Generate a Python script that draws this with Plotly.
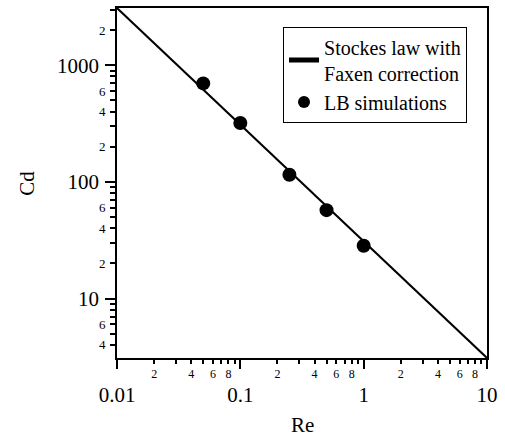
import plotly.graph_objects as go

# Data
re_sim = [0.05, 0.1, 0.25, 0.5, 1.0]
cd_sim = [698, 319, 115, 57.2, 28.3]
re_line = [0.01, 10]
cd_line = [3090, 3.09]

x_major = [0.01, 0.1, 1, 10]
x_major_text = ["0.01", "0.1", "1", "10"]
y_major = [10, 100, 1000]
y_major_text = ["10", "100", "1000"]
minor_digits = [2, 3, 4, 5, 6, 7, 8, 9]
x_minor_labels = {2: "2", 4: "4", 6: "6", 8: "8"}
y_minor_labels = {2: "2", 4: "4", 6: "6"}

FONT = "Liberation Serif"
xr = [-2, 1]
yr = [0.49, 3.49]

x_minor = [d * 10 ** e for e in (-2, -1, 0) for d in minor_digits]
x_minor_text = [x_minor_labels.get(d, "") for e in (-2, -1, 0) for d in minor_digits]
y_minor = [d * 10 ** e for e in (0, 1, 2, 3) for d in minor_digits]
y_minor_text = [y_minor_labels.get(d, "") for e in (0, 1, 2, 3) for d in minor_digits]

fig = go.Figure()
fig.add_trace(go.Scatter(x=re_line, y=cd_line, mode="lines",
                         line=dict(color="black", width=2),
                         name="Stockes law with<br>Faxen correction"))
fig.add_trace(go.Scatter(x=re_sim, y=cd_sim, mode="markers",
                         marker=dict(color="black", size=14),
                         name="LB simulations"))
# invisible carrier so the minor-tick overlay axes are drawn
fig.add_trace(go.Scatter(x=re_line, y=cd_line, mode="lines", xaxis="x2", yaxis="y2",
                         line=dict(width=0), opacity=0, showlegend=False,
                         hoverinfo="skip"))

fig.update_layout(
    width=505, height=436,
    margin=dict(l=117, r=18, t=6, b=78),
    plot_bgcolor="white", paper_bgcolor="white",
    font=dict(family=FONT, size=21, color="black"),
    showlegend=True,
    legend=dict(x=0.946, y=0.947, xanchor="right", yanchor="top",
                bordercolor="black", borderwidth=1, bgcolor="white",
                font=dict(family=FONT, size=20), itemwidth=30,
                itemsizing="constant", tracegroupgap=0),
    xaxis=dict(type="log", range=xr, showgrid=False, zeroline=False,
               showline=True, linecolor="black", linewidth=1.5, mirror=True,
               ticks="outside", ticklen=9, tickwidth=1.5, tickcolor="black",
               tickvals=x_major, ticktext=x_major_text,
               tickfont=dict(size=21), ticklabelstandoff=8),
    yaxis=dict(type="log", range=yr, showgrid=False, zeroline=False,
               showline=True, linecolor="black", linewidth=1.5, mirror=True,
               ticks="outside", ticklen=10, tickwidth=1.5, tickcolor="black",
               tickvals=y_major, ticktext=y_major_text,
               tickfont=dict(size=21), ticklabelstandoff=2),
    xaxis2=dict(type="log", range=xr, overlaying="x", side="bottom",
                showgrid=False, zeroline=False, showline=False,
                ticks="outside", ticklen=5, tickwidth=1.5, tickcolor="black",
                tickvals=x_minor, ticktext=x_minor_text,
                tickfont=dict(size=12), ticklabelstandoff=0),
    yaxis2=dict(type="log", range=yr, overlaying="y", side="left",
                showgrid=False, zeroline=False, showline=False,
                ticks="outside", ticklen=6, tickwidth=1.5, tickcolor="black",
                tickvals=y_minor, ticktext=y_minor_text,
                tickfont=dict(size=13), ticklabelstandoff=2),
    annotations=[
        dict(text="Cd", xref="paper", yref="paper", x=-0.244, y=0.5,
             xanchor="center", yanchor="middle",
             showarrow=False, textangle=-90, font=dict(size=21)),
        dict(text="Re", xref="paper", yref="paper", x=0.5, y=-0.19,
             xanchor="center", yanchor="middle",
             showarrow=False, font=dict(size=21)),
    ],
)

fig.write_html("out.html")
